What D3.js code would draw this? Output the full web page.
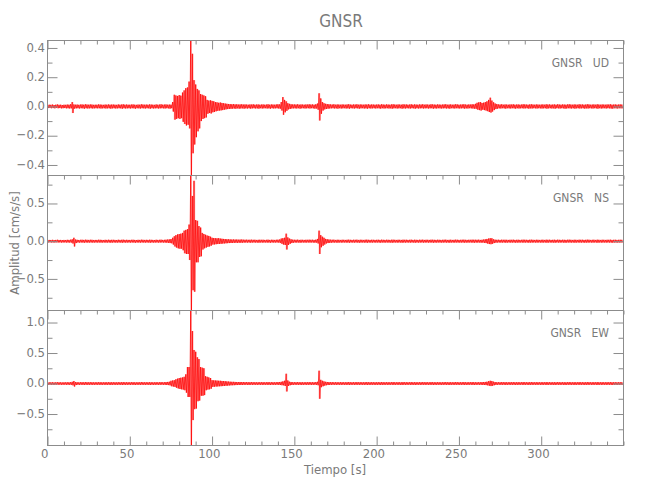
<!DOCTYPE html>
<html><head><meta charset="utf-8">
<script src="https://cdn.jsdelivr.net/npm/d3@7"></script>
<style>body{margin:0;background:#fff}</style></head>
<body>
<svg id="c" width="650" height="500"></svg>
<script>
const title = "GNSR";
const station = "GNSR";
const components = ["UD", "NS", "EW"];
const xLabel = "Tiempo [s]";
const yLabel = "Amplitud [cm/s/s]";
const xDomain = [0, 350];
const xMajorTicks = [0, 50, 100, 150, 200, 250, 300];
const xMinorStep = 10;
const yMajorTicksUD = [-0.4, -0.2, 0.0, 0.2, 0.4];
const yMinorTicksUD = [-0.3, -0.1, 0.1, 0.3];
const yMajorTicksNS = [-0.5, 0.0, 0.5];
const yMinorTicksNS = [-0.75, -0.25, 0.25, 0.75];
const yMajorTicksEW = [-0.5, 0.0, 0.5, 1.0];
const yMinorTicksEW = [-0.75, -0.25, 0.25, 0.75];

// per-second envelope (max / min), in 0.001 cm/s/s
const UD_hi = [
10,12,11,13,10,12,14,11,12,10, 12,11,13,12,15,30,14,12,13,11, 13,14,12,15,13,12,14,13,11,12,
12,14,13,12,11,13,12,14,12,13, 13,12,11,14,12,13,15,12,13,12, 12,13,14,12,11,13,12,15,13,12,
13,12,14,13,12,11,14,12,13,15, 12,13,14,12,13,12,30,80,75,72, 78,74,95,110,125,130,170,451,360,180,
150,120,110,85,80,75,70,45,40,42, 38,35,30,28,25,27,24,22,20,18, 17,16,15,16,14,15,13,14,15,13,
14,13,12,14,13,15,12,13,14,12, 13,14,12,13,15,12,14,13,12,14, 15,14,30,64,45,35,22,18,15,14,
14,13,15,12,14,13,12,14,13,15, 13,14,12,15,20,90,55,30,22,18, 16,15,14,13,15,12,14,13,12,14,
13,12,14,15,13,12,14,13,15,12, 14,13,12,14,13,15,12,14,13,12, 13,14,12,15,13,12,14,13,12,14,
15,13,12,14,13,12,15,13,14,12, 13,15,12,14,13,12,14,13,15,12, 14,13,12,15,14,13,12,14,13,12,
13,14,15,12,13,14,12,13,15,14, 12,13,14,15,13,12,14,13,15,14, 18,25,28,30,24,26,30,35,45,60,
40,28,20,16,14,13,15,12,14,13, 12,14,13,15,12,13,14,12,13,15, 14,13,12,14,15,13,12,14,13,12,
13,14,12,15,13,14,12,13,14,12, 15,13,12,14,13,12,14,15,13,12, 14,13,12,15,13,14,12,13,15,14,
12,13,14,12,15,13,12,14,13,12, 14,13,15,12,13,14,12,13,14,13];
const UD_lo = [
-11,-10,-12,-11,-13,-10,-12,-11,-13,-12, -11,-13,-12,-14,-13,-45,-15,-13,-12,-14, -12,-13,-15,-12,-14,-13,-12,-14,-13,-12,
-13,-12,-14,-13,-12,-14,-13,-12,-15,-13, -12,-14,-13,-12,-13,-15,-12,-14,-13,-12, -14,-12,-13,-15,-12,-13,-14,-12,-13,-14,
-12,-13,-15,-12,-14,-13,-12,-14,-13,-12, -13,-14,-12,-13,-15,-12,-35,-90,-85,-80, -85,-80,-105,-120,-130,-125,-150,-472,-320,-260,
-210,-170,-150,-100,-85,-80,-75,-50,-45,-48, -40,-38,-33,-30,-28,-27,-25,-22,-20,-18, -17,-16,-15,-14,-16,-13,-15,-14,-13,-15,
-13,-14,-12,-15,-13,-12,-14,-13,-15,-12, -14,-13,-12,-14,-13,-15,-12,-14,-13,-12, -14,-15,-28,-57,-40,-30,-20,-17,-14,-13,
-13,-14,-12,-15,-13,-12,-14,-13,-12,-14, -12,-13,-15,-14,-22,-96,-50,-28,-20,-17, -15,-14,-13,-12,-14,-13,-15,-12,-14,-13,
-12,-14,-13,-15,-12,-13,-14,-12,-13,-15, -13,-12,-14,-13,-15,-12,-14,-13,-12,-14, -12,-13,-15,-12,-14,-13,-12,-14,-13,-15,
-13,-12,-14,-13,-12,-15,-13,-14,-12,-13, -14,-12,-13,-15,-12,-14,-13,-12,-14,-13, -12,-14,-13,-12,-15,-13,-14,-12,-13,-14,
-13,-12,-14,-13,-15,-12,-13,-14,-12,-13, -14,-13,-12,-15,-13,-14,-12,-13,-14,-15, -16,-22,-25,-28,-22,-25,-28,-32,-38,-42,
-35,-25,-18,-15,-13,-14,-12,-13,-15,-12, -13,-14,-12,-13,-15,-12,-14,-13,-12,-14, -13,-12,-15,-13,-14,-12,-13,-14,-12,-13,
-14,-13,-12,-15,-13,-12,-14,-13,-15,-12, -13,-14,-12,-13,-15,-14,-12,-13,-14,-12, -15,-13,-12,-14,-13,-12,-15,-13,-14,-12,
-13,-14,-12,-13,-15,-12,-14,-13,-12,-14, -12,-13,-14,-15,-12,-13,-14,-12,-13,-14];
const NS_hi = [
15,17,16,18,15,17,19,16,17,15, 17,16,18,17,20,25,45,22,18,16, 18,19,17,20,18,17,19,18,16,17,
17,19,18,17,16,18,17,19,17,18, 18,17,16,19,17,18,20,17,18,17, 17,18,19,17,16,18,17,20,18,17,
18,17,19,18,17,16,19,17,18,20, 17,18,20,22,24,28,45,65,80,90, 95,100,110,140,150,160,220,871,600,800,
280,270,200,180,110,95,85,75,70,60, 45,42,40,38,40,35,32,30,28,26, 25,24,22,23,21,22,20,21,22,20,
19,20,18,19,20,18,19,17,18,19, 18,19,17,18,20,17,19,18,17,19, 20,22,35,40,45,100,50,35,25,20,
19,18,20,17,19,18,17,19,18,20, 18,19,17,20,30,140,80,60,45,30, 25,22,20,19,20,17,19,18,17,19,
18,17,19,20,18,17,19,18,20,17, 19,18,17,19,20,18,17,19,18,17, 18,19,17,20,18,17,19,18,17,19,
20,18,17,19,18,17,20,18,19,17, 18,20,17,19,18,17,19,18,20,17, 19,18,17,20,19,18,17,19,18,17,
18,19,20,17,18,19,17,18,20,19, 17,18,19,20,18,17,19,18,20,19, 19,18,20,17,19,22,25,30,35,40,
38,25,20,18,19,17,20,18,19,18, 17,19,18,20,17,18,19,17,18,20, 19,18,17,19,20,18,17,19,18,17,
18,19,17,20,18,19,17,18,19,17, 20,18,17,19,18,17,19,20,18,17, 19,18,17,20,18,19,17,18,20,19,
17,18,19,17,20,18,17,19,18,17, 19,18,20,17,18,19,17,18,19,18];
const NS_lo = [
-16,-15,-17,-16,-18,-15,-17,-16,-18,-17, -16,-18,-17,-19,-18,-30,-70,-25,-17,-19, -17,-18,-20,-17,-19,-18,-17,-19,-18,-17,
-18,-17,-19,-18,-17,-19,-18,-17,-20,-18, -17,-19,-18,-17,-18,-20,-17,-19,-18,-17, -19,-17,-18,-20,-17,-18,-19,-17,-18,-19,
-17,-18,-20,-17,-19,-18,-17,-19,-18,-17, -18,-19,-20,-22,-25,-28,-45,-70,-85,-95, -100,-100,-120,-160,-170,-170,-250,-919,-650,-670,
-280,-280,-210,-200,-110,-95,-85,-75,-70,-60, -45,-43,-40,-38,-36,-35,-32,-30,-28,-26, -25,-24,-23,-22,-21,-22,-20,-21,-20,-19,
-18,-19,-17,-20,-18,-17,-19,-18,-20,-17, -19,-18,-17,-19,-18,-20,-17,-19,-18,-17, -19,-22,-35,-45,-50,-110,-50,-35,-25,-20,
-18,-19,-17,-20,-18,-17,-19,-18,-17,-19, -17,-18,-20,-19,-30,-170,-80,-60,-45,-30, -25,-22,-20,-18,-19,-18,-20,-17,-19,-18,
-17,-19,-18,-20,-17,-18,-19,-17,-18,-20, -18,-17,-19,-18,-20,-17,-19,-18,-17,-19, -17,-18,-20,-17,-19,-18,-17,-19,-18,-20,
-18,-17,-19,-18,-17,-20,-18,-19,-17,-18, -19,-17,-18,-20,-17,-19,-18,-17,-19,-18, -17,-19,-18,-17,-20,-18,-19,-17,-18,-19,
-18,-17,-19,-18,-20,-17,-18,-19,-17,-18, -19,-18,-17,-20,-18,-19,-17,-18,-19,-20, -18,-19,-17,-20,-19,-22,-25,-32,-38,-40,
-35,-25,-20,-18,-17,-19,-18,-17,-20,-18, -17,-19,-18,-17,-20,-18,-19,-17,-18,-19, -18,-17,-20,-18,-19,-17,-18,-19,-17,-18,
-19,-18,-17,-20,-18,-17,-19,-18,-20,-17, -18,-19,-17,-18,-20,-19,-17,-18,-19,-17, -20,-18,-17,-19,-18,-17,-20,-18,-19,-17,
-18,-19,-17,-18,-20,-17,-19,-18,-17,-19, -17,-18,-19,-20,-17,-18,-19,-17,-18,-19];
const EW_hi = [
18,20,19,21,18,20,22,19,20,18, 20,19,21,20,22,28,40,24,21,19, 21,22,20,23,21,20,22,21,19,20,
20,22,21,20,19,21,20,22,20,21, 21,20,19,22,20,21,23,20,21,20, 20,21,22,20,19,21,20,23,21,20,
21,20,22,21,20,19,22,20,21,23, 20,22,24,26,30,45,50,55,70,80, 90,95,100,110,150,270,270,1197,860,550,
520,430,400,270,260,250,120,110,100,90, 55,52,50,48,45,45,42,40,38,35, 32,30,28,27,26,25,24,25,23,24,
22,23,21,22,23,21,22,20,21,22, 21,22,20,21,23,20,22,21,20,22, 23,25,28,35,45,160,50,30,25,22,
22,21,23,20,22,21,20,22,21,23, 21,22,20,23,28,210,60,45,35,28, 25,23,22,23,20,22,21,20,22,21,
21,20,22,23,21,20,22,21,23,20, 22,21,20,22,23,21,20,22,21,20, 21,22,20,23,21,20,22,21,20,22,
23,21,20,22,21,20,23,21,22,20, 21,23,20,22,21,20,22,21,23,20, 22,21,20,23,22,21,20,22,21,20,
21,22,23,20,21,22,20,21,23,22, 20,21,22,23,21,20,22,21,23,22, 21,20,22,21,23,24,26,30,38,45,
40,30,24,21,22,20,23,21,22,21, 20,22,21,23,20,21,22,20,21,23, 22,21,20,22,23,21,20,22,21,20,
21,22,20,23,21,22,20,21,22,20, 23,21,20,22,21,20,22,23,21,20, 22,21,20,23,21,22,20,21,23,22,
20,21,22,20,23,21,20,22,21,20, 22,21,23,20,21,22,20,21,22,21];
const EW_lo = [
-19,-18,-20,-19,-21,-18,-20,-19,-21,-20, -19,-21,-20,-22,-21,-30,-50,-25,-20,-22, -20,-21,-23,-20,-22,-21,-20,-22,-21,-20,
-21,-20,-22,-21,-20,-22,-21,-20,-23,-21, -20,-22,-21,-20,-21,-23,-20,-22,-21,-20, -22,-20,-21,-23,-20,-21,-22,-20,-21,-22,
-20,-21,-23,-20,-22,-21,-20,-22,-21,-20, -21,-22,-24,-26,-30,-45,-50,-55,-70,-80, -90,-95,-100,-110,-150,-220,-220,-1016,-600,-420,
-410,-290,-280,-200,-200,-190,-110,-100,-95,-85, -55,-52,-50,-48,-45,-44,-42,-40,-37,-35, -32,-30,-28,-27,-26,-25,-24,-23,-24,-22,
-21,-22,-23,-21,-22,-20,-21,-22,-20,-21, -22,-21,-20,-22,-21,-23,-20,-22,-21,-20, -22,-24,-28,-30,-40,-130,-40,-28,-24,-22,
-20,-21,-22,-20,-23,-21,-20,-22,-21,-20, -22,-21,-20,-22,-28,-250,-60,-45,-35,-28, -25,-23,-22,-20,-21,-22,-20,-21,-22,-20,
-21,-22,-20,-23,-21,-20,-22,-21,-20,-22, -20,-21,-22,-20,-23,-21,-22,-20,-21,-22, -21,-20,-23,-21,-22,-20,-21,-22,-20,-21,
-22,-21,-20,-22,-21,-23,-20,-22,-21,-20, -21,-22,-20,-23,-21,-20,-22,-21,-20,-22, -20,-22,-21,-20,-23,-21,-22,-20,-21,-22,
-21,-20,-22,-21,-23,-20,-21,-22,-20,-21, -22,-21,-20,-23,-21,-22,-20,-21,-22,-23, -21,-20,-22,-21,-23,-24,-26,-30,-36,-42,
-38,-28,-23,-21,-20,-22,-21,-20,-23,-21, -20,-22,-21,-20,-23,-21,-22,-20,-21,-22, -21,-20,-23,-21,-22,-20,-21,-22,-20,-21,
-22,-21,-20,-23,-21,-20,-22,-21,-23,-20, -21,-22,-20,-21,-23,-22,-20,-21,-22,-20, -23,-21,-20,-22,-21,-20,-23,-21,-22,-20,
-21,-22,-20,-21,-23,-20,-22,-21,-20,-22, -20,-21,-22,-23,-20,-21,-22,-20,-21,-22];

const panels = [
  {comp: components[0], hi: UD_hi, lo: UD_lo, major: yMajorTicksUD, minor: yMinorTicksUD},
  {comp: components[1], hi: NS_hi, lo: NS_lo, major: yMajorTicksNS, minor: yMinorTicksNS},
  {comp: components[2], hi: EW_hi, lo: EW_lo, major: yMajorTicksEW, minor: yMinorTicksEW}
];

const L = 47.5, R = 623.5, T = 40.5, PH = 135;
const axisColor = "#8c8c8c", textColor = "#7a7a7a";
const FONT = '"DejaVu Sans Condensed","DejaVu Sans",sans-serif';
const svg = d3.select("#c");
const x = d3.scaleLinear().domain(xDomain).range([L, R]);
const xMinor = d3.range(xDomain[0], xDomain[1] + 1, xMinorStep).filter(v => !xMajorTicks.includes(v));

svg.append("text").attr("x", 341).attr("y", 27).attr("text-anchor", "middle")
  .attr("font-family", FONT).attr("font-size", 17).attr("fill", textColor).text(title);

panels.forEach((p, i) => {
  const top = T + i * PH, bottom = top + PH;
  const lo = d3.min(p.lo) / 1000, hi = d3.max(p.hi) / 1000;
  const y = d3.scaleLinear().domain([lo, hi]).range([bottom, top]);
  const g = svg.append("g");
  const cid = "clip" + i;
  svg.append("clipPath").attr("id", cid).append("rect")
    .attr("x", L).attr("y", top).attr("width", R - L).attr("height", PH);
  const bins = p.hi.map((h, k) => ({t: k, h: h / 1000, l: p.lo[k] / 1000}));
  // faint envelope fill (min..max of each second)
  g.append("path").attr("clip-path", `url(#${cid})`)
    .attr("d", d3.area().curve(d3.curveStep).x(d => x(d.t + 0.25))
      .y0(d => y(d.l)).y1(d => y(d.h))(bins))
    .attr("fill", "#ff0000").attr("fill-opacity", 0.3);
  // waveform trace through max/min of each second
  const pts = bins.flatMap(d => [[d.t, d.h], [d.t + 0.5, d.l]]);
  g.append("path").attr("clip-path", `url(#${cid})`)
    .attr("d", d3.line().x(d => x(d[0])).y(d => y(d[1]))(pts))
    .attr("fill", "none").attr("stroke", "#ff0000").attr("stroke-width", 0.8)
    .attr("stroke-opacity", 0.9);

  const style = sel => {
    sel.select(".domain").remove();
    sel.selectAll("line").attr("stroke", axisColor);
    sel.selectAll("text").attr("fill", textColor).attr("font-family", FONT).attr("font-size", 13);
  };
  // left
  g.append("g").attr("transform", `translate(${L},0)`)
    .call(d3.axisLeft(y).tickValues(p.major).tickSize(-10).tickPadding(2.5).tickFormat(d3.format(".1f")))
    .call(style).selectAll("text").attr("dy", "0.25em");
  g.append("g").attr("transform", `translate(${L},0)`)
    .call(d3.axisLeft(y).tickValues(p.minor).tickSize(-5).tickFormat("")).call(style);
  // right
  g.append("g").attr("transform", `translate(${R},0)`)
    .call(d3.axisRight(y).tickValues(p.major).tickSize(-10).tickFormat("")).call(style);
  g.append("g").attr("transform", `translate(${R},0)`)
    .call(d3.axisRight(y).tickValues(p.minor).tickSize(-5).tickFormat("")).call(style);
  // top
  g.append("g").attr("transform", `translate(0,${top})`)
    .call(d3.axisTop(x).tickValues(xMajorTicks).tickSize(-9).tickFormat("")).call(style);
  g.append("g").attr("transform", `translate(0,${top})`)
    .call(d3.axisTop(x).tickValues(xMinor).tickSize(-4).tickFormat("")).call(style);
  if (i === panels.length - 1) {
    g.append("g").attr("transform", `translate(0,${bottom})`)
      .call(d3.axisBottom(x).tickValues(xMajorTicks).tickSize(-9).tickPadding(3).tickFormat(d3.format("d")))
      .call(style).selectAll("text").attr("dx", "-0.25em");
    g.append("g").attr("transform", `translate(0,${bottom})`)
      .call(d3.axisBottom(x).tickValues(xMinor).tickSize(-4).tickFormat("")).call(style);
  }
  g.append("rect").attr("x", L).attr("y", top).attr("width", R - L).attr("height", PH)
    .attr("fill", "none").attr("stroke", axisColor).attr("stroke-width", 1);
  g.append("text").attr("x", 609).attr("y", top + 26).attr("text-anchor", "end")
    .attr("font-family", FONT).attr("font-size", 12).attr("fill", textColor)
    .attr("xml:space", "preserve").style("white-space", "pre")
    .text(station + "   " + p.comp);
});

svg.append("text").attr("transform", "translate(19,243) rotate(-90)").attr("text-anchor", "middle")
  .attr("font-family", FONT).attr("font-size", 13).attr("fill", textColor).text(yLabel);
svg.append("text").attr("x", 335).attr("y", 474).attr("text-anchor", "middle")
  .attr("font-family", FONT).attr("font-size", 13).attr("fill", textColor).text(xLabel);
</script>
</body></html>
